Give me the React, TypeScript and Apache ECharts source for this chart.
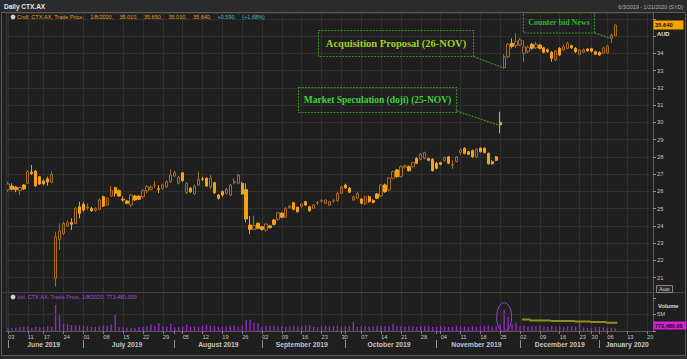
import React, { useEffect, useRef } from 'react';
import * as echarts from 'echarts';

// ---------- DATA ----------
const HOLIDAYS = ['2019-06-10', '2019-12-25', '2019-12-26', '2020-01-01'];
const MONTHS = ['January', 'February', 'March', 'April', 'May', 'June', 'July', 'August', 'September', 'October', 'November', 'December'];

function buildDates(): string[] {
  const out: string[] = [];
  const d = new Date(Date.UTC(2019, 5, 3));
  const end = Date.UTC(2020, 0, 21);
  while (d.getTime() <= end) {
    const dow = d.getUTCDay();
    const s = d.toISOString().slice(0, 10);
    if (dow !== 0 && dow !== 6 && !HOLIDAYS.includes(s)) out.push(s);
    d.setUTCDate(d.getUTCDate() + 1);
  }
  return out;
}
const dates = buildDates();

// [open, close, low, high]
const candles: number[][] = [
  [26.08, 26.43, 25.98, 26.56], [26.31, 26.12, 26.04, 26.47], [26.24, 26.10, 25.95, 26.31], [26.05, 26.22, 25.79, 26.27],
  [26.37, 26.14, 26.08, 26.42], [26.47, 27.14, 26.43, 27.24], [27.12, 27.02, 26.95, 27.53], [27.18, 26.33, 26.25, 27.24],
  [26.85, 26.43, 26.37, 26.89], [26.60, 26.43, 26.37, 26.70], [26.73, 26.54, 26.33, 26.85], [26.52, 26.98, 26.47, 27.15],
  [20.96, 23.37, 20.48, 23.66], [23.22, 23.70, 22.60, 24.15], [23.55, 24.15, 23.47, 24.24], [24.00, 24.19, 23.95, 24.34],
  [24.20, 24.10, 23.76, 24.44], [24.15, 25.02, 24.10, 25.10], [25.11, 24.73, 24.44, 25.40], [25.25, 24.92, 24.82, 25.40],
  [25.05, 25.10, 24.90, 25.30], [25.02, 24.88, 24.80, 25.10], [24.90, 25.00, 24.82, 25.08], [24.96, 25.50, 24.90, 25.60],
  [25.69, 25.15, 25.10, 25.75], [25.21, 25.60, 25.15, 25.65], [25.73, 26.08, 25.69, 26.31], [26.21, 25.89, 25.69, 26.27],
  [26.04, 25.73, 25.69, 26.12], [25.55, 25.50, 25.40, 25.70], [25.44, 25.31, 25.25, 25.50], [25.21, 25.79, 25.10, 25.85],
  [25.73, 25.50, 25.45, 25.80], [25.72, 25.55, 25.50, 25.78], [25.69, 26.04, 25.60, 26.12], [26.04, 26.27, 25.90, 26.37],
  [26.12, 26.24, 26.05, 26.35], [26.35, 26.38, 26.20, 26.60], [26.15, 26.12, 25.90, 26.35], [26.18, 26.37, 26.10, 26.45],
  [26.27, 26.56, 26.20, 26.65], [26.56, 26.95, 26.50, 27.28], [26.89, 27.08, 26.85, 27.20], [26.47, 26.82, 26.40, 26.90],
  [27.08, 26.62, 26.55, 27.12], [25.92, 26.47, 25.85, 26.55], [26.18, 25.98, 25.90, 26.25], [25.85, 26.31, 25.78, 26.40],
  [26.37, 26.70, 26.31, 27.14], [26.72, 26.70, 26.60, 26.85], [26.76, 26.31, 26.25, 26.82], [26.26, 26.76, 26.12, 26.95],
  [26.50, 25.92, 25.85, 26.55], [25.79, 25.60, 25.52, 25.85], [25.98, 25.79, 25.70, 26.05], [25.89, 26.12, 25.82, 26.20],
  [25.79, 26.37, 25.72, 26.42], [26.50, 26.56, 26.40, 26.75], [26.47, 26.95, 26.40, 27.00], [26.47, 25.85, 25.80, 26.56],
  [26.10, 24.40, 24.20, 26.47], [24.05, 23.80, 23.53, 24.57], [23.80, 24.02, 23.75, 24.60], [24.15, 23.86, 23.80, 24.20],
  [23.95, 23.80, 23.72, 24.00], [23.76, 24.10, 23.66, 24.15], [24.00, 23.90, 23.85, 24.05], [24.34, 24.09, 24.02, 24.40],
  [24.38, 24.76, 24.30, 24.82], [24.73, 24.50, 24.45, 24.80], [24.50, 25.02, 24.45, 25.08], [25.05, 25.13, 24.98, 25.20],
  [25.34, 24.96, 24.90, 25.40], [25.08, 24.82, 24.78, 25.12], [25.11, 25.27, 25.05, 25.32], [25.40, 25.21, 25.15, 25.45],
  [25.11, 24.88, 24.82, 25.15], [25.02, 25.21, 24.98, 25.26], [25.32, 25.35, 25.20, 25.45], [25.43, 25.46, 25.35, 25.55],
  [25.31, 25.50, 25.25, 25.55], [25.21, 25.40, 25.15, 25.45], [25.44, 25.46, 25.35, 25.55], [25.46, 25.89, 25.40, 25.95],
  [25.89, 26.27, 25.85, 26.32], [26.37, 26.20, 26.15, 26.45], [26.18, 25.95, 25.90, 26.25], [25.50, 25.69, 25.45, 25.75],
  [25.60, 25.89, 25.55, 25.95], [25.56, 25.31, 25.25, 25.62], [25.27, 25.69, 25.20, 25.75], [25.69, 25.40, 25.35, 25.75],
  [25.48, 25.36, 25.30, 25.55], [25.85, 25.60, 25.55, 25.90], [25.73, 26.37, 25.68, 26.42], [26.37, 25.98, 25.92, 26.45],
  [26.08, 26.76, 26.02, 26.82], [26.76, 27.14, 26.70, 27.20], [27.24, 26.85, 26.80, 27.30], [26.85, 27.43, 26.80, 27.50],
  [27.40, 27.48, 27.32, 27.55], [27.43, 27.20, 27.15, 27.50], [27.43, 27.66, 27.38, 27.72], [27.91, 27.63, 27.58, 27.98],
  [27.86, 28.16, 27.80, 28.22], [27.91, 28.24, 27.85, 28.30], [27.90, 27.80, 27.75, 27.95], [27.86, 27.20, 27.15, 27.92],
  [27.63, 27.34, 27.28, 27.70], [27.66, 27.57, 27.50, 27.72], [27.78, 27.97, 27.72, 28.02], [28.00, 27.63, 27.58, 28.05],
  [27.52, 27.55, 27.30, 27.80], [27.72, 28.00, 27.68, 28.05], [28.25, 28.40, 28.11, 28.50], [28.50, 28.20, 28.15, 28.55],
  [28.30, 28.15, 28.10, 28.35], [28.36, 28.00, 27.95, 28.42], [28.00, 28.44, 27.95, 28.50], [28.50, 28.30, 28.25, 28.55],
  [28.50, 28.24, 28.20, 28.55], [28.20, 27.60, 27.55, 28.25], [27.72, 27.60, 27.55, 27.80], [28.00, 27.80, 27.75, 28.05],
  [30.00, 29.85, 29.36, 30.62], [33.17, 33.80, 33.10, 33.94], [33.80, 34.52, 33.71, 34.58], [34.58, 34.40, 34.29, 34.87],
  [34.45, 34.70, 34.30, 35.16], [34.48, 34.77, 34.40, 34.90], [34.00, 34.38, 33.51, 34.77], [34.10, 34.35, 34.00, 34.45],
  [34.52, 34.29, 34.20, 34.60], [34.32, 34.52, 34.25, 34.67], [34.48, 34.29, 34.22, 34.55], [34.32, 34.06, 34.00, 34.38],
  [34.20, 34.10, 34.02, 34.28], [34.06, 33.71, 33.51, 34.12], [33.61, 34.13, 33.55, 34.20], [34.29, 33.90, 33.85, 34.35],
  [34.19, 34.38, 34.12, 34.52], [34.29, 34.58, 34.22, 34.67], [34.44, 34.32, 34.25, 34.50], [34.29, 34.09, 34.02, 34.35],
  [33.94, 34.19, 33.88, 34.25], [34.06, 34.20, 34.00, 34.28], [34.25, 34.15, 34.08, 34.30], [34.27, 34.12, 34.05, 34.32],
  [34.09, 33.95, 33.90, 34.15], [34.05, 33.90, 33.85, 34.12], [34.00, 34.32, 33.95, 34.38], [34.02, 34.42, 33.98, 34.50],
  [34.87, 35.05, 34.60, 35.14], [35.01, 35.64, 35.01, 35.65],
];

// volume, millions
const volumes: number[] = [
  1.0, 0.9, 1.0, 1.1, 1.2, 1.3, 1.0, 1.2, 1.1, 1.2, 1.4, 1.3,
  7.9, 4.8, 2.2, 2.1, 1.8, 1.7, 1.6,
  1.6, 1.5, 1.3, 1.2, 1.4, 1.7, 1.6, 2.0,
  4.9,
  1.1, 1.1, 1.0, 0.9, 1.0, 1.1, 1.2, 1.4,
  2.0, 1.4, 2.4, 1.4, 1.3, 2.2, 1.1, 1.3, 1.4, 2.0, 1.3, 1.4, 1.2, 1.5, 1.9, 1.6, 1.5, 1.3, 1.4, 1.4, 1.6, 1.6, 1.3, 1.7,
  3.3, 3.4, 2.5, 2.4,
  1.3, 1.5, 1.6, 1.6, 1.4, 1.5, 1.3, 1.4, 1.6, 1.4, 1.5, 1.7, 1.8, 1.3, 1.2, 1.5, 1.6, 1.4, 1.5, 1.6, 1.3,
  1.4, 1.5, 2.8, 1.2, 1.4, 1.5, 1.3, 1.4, 1.6, 1.5, 1.4, 1.5, 2.2, 1.6, 1.4, 1.3, 1.5, 1.4, 1.3, 1.5, 1.4, 1.6, 1.2,
  1.3, 1.5, 1.4, 1.2, 1.3, 1.6, 1.4, 1.3, 1.2, 1.5, 1.3, 1.4, 1.5, 1.7, 1.3, 1.4,
  2.0, 6.4, 4.3, 2.0, 2.6,
  1.4, 1.7, 1.3, 1.5, 1.4, 1.6, 1.3, 1.2, 1.5, 1.3, 1.4, 1.2, 1.3, 1.4, 1.3, 2.8, 1.1, 0.9, 1.0, 1.1, 1.2, 1.1, 1.0, 1.0, 0.77348,
];

// drawn volume trend line (millions), starting at trading day index 130
const volTrendStart = 130;
const volTrend: number[] = [3.5, 3.5, 3.2, 3.2, 3.2, 3.2, 3.2, 3.0, 3.0, 3.0, 3.0, 3.0, 3.0, 2.9, 2.9, 2.9, 2.9, 2.7, 2.7, 2.7, 2.7, 2.5, 2.5, 2.5];

const lastVolumeText = '773,480.000';
const lastVolumeTag = '773,480.00';

// ---------- STYLE ----------
const FONT = '"Liberation Sans", Arial, sans-serif';
const SERIF = '"Liberation Serif", "Times New Roman", serif';
const GRID_C = '#2f2f2f';
const AXIS_C = '#5a5a5a';
const LABEL_C = '#c4c4c4';
const LEG_SIZE = 5.5;

const dow = (s: string) => new Date(s + 'T00:00:00Z').getUTCDay();
const isWeekStart = dates.map((s, i) => i === 0 || dow(s) <= dow(dates[i - 1]));
const isMonthStart = dates.map((s, i) => i === 0 || s.slice(5, 7) !== dates[i - 1].slice(5, 7));
const monthMid: boolean[] = dates.map(() => false);
{
  let start = 0;
  for (let i = 1; i <= dates.length; i++) {
    if (i === dates.length || isMonthStart[i]) {
      monthMid[Math.ceil((start + i - 1) / 2)] = true;
      start = i;
    }
  }
}

function measure(text: string, font: string): number {
  const c = document.createElement('canvas').getContext('2d')!;
  c.font = font;
  return c.measureText(text).width;
}

function buildOption(): any {
  const trendData = dates.map((_, i) =>
    i >= volTrendStart && i < volTrendStart + volTrend.length ? volTrend[i - volTrendStart] : '-'
  );
  const vSplit = { show: true, interval: (i: number) => isWeekStart[i], alignWithLabel: true, lineStyle: { color: GRID_C, width: 1 } };
  return {
    animation: false,
    backgroundColor: '#1f1f1f',
    grid: [
      { left: 6, right: 34, top: 13, height: 279 },
      { left: 6, right: 34, top: 292, height: 39 },
    ],
    xAxis: [
      {
        type: 'category', data: dates, gridIndex: 0, boundaryGap: true,
        axisLine: { show: false }, axisTick: { show: false }, axisLabel: { show: false },
        splitLine: vSplit,
      },
      {
        type: 'category', data: dates, gridIndex: 1, boundaryGap: true,
        axisLine: { show: true, lineStyle: { color: AXIS_C } },
        axisTick: { show: true, alignWithLabel: true, length: 3, interval: (i: number) => isWeekStart[i] || isMonthStart[i], lineStyle: { color: '#808080' } },
        axisLabel: {
          interval: (i: number) => isWeekStart[i], formatter: (v: string) => v.slice(8, 10),
          align: 'left', fontSize: 5.7, color: LABEL_C, margin: 3, fontFamily: FONT,
        },
        splitLine: vSplit,
      },
      {
        type: 'category', data: dates, gridIndex: 1, boundaryGap: true, position: 'bottom', offset: 9,
        axisLine: { show: false },
        axisTick: { show: true, alignWithLabel: true, length: 8, interval: (i: number) => isMonthStart[i], lineStyle: { color: '#909090' } },
        axisLabel: {
          interval: (i: number) => monthMid[i],
          formatter: (v: string) => MONTHS[Number(v.slice(5, 7)) - 1] + ' ' + v.slice(0, 4),
          fontSize: 6.8, fontWeight: 'bold', color: LABEL_C, margin: 0.5, fontFamily: FONT,
        },
        splitLine: { show: false },
      },
    ],
    yAxis: [
      {
        type: 'value', gridIndex: 0, position: 'right', min: 20.17, max: 36.335, splitNumber: 16,
        axisLine: { show: true, lineStyle: { color: AXIS_C } },
        axisTick: { show: true, length: 3, lineStyle: { color: '#909090' } },
        axisLabel: {
          showMinLabel: false, showMaxLabel: false,
          formatter: (v: number) => (v > 34.5 ? '' : String(v)),
          fontSize: 5.8, color: LABEL_C, margin: 4, fontFamily: FONT,
        },
        splitLine: { show: true, lineStyle: { color: GRID_C } },
      },
      {
        type: 'value', gridIndex: 1, position: 'right', min: 0, max: 11.8, interval: 5,
        axisLine: { show: true, lineStyle: { color: AXIS_C } },
        axisTick: { show: true, length: 3, lineStyle: { color: '#909090' } },
        axisLabel: { formatter: (v: number) => (v === 5 ? '5M' : ''), fontSize: 5.8, color: LABEL_C, margin: 4, fontFamily: FONT },
        splitLine: { show: false },
      },
    ],
    series: [
      {
        type: 'candlestick', xAxisIndex: 0, yAxisIndex: 0, data: candles, barWidth: 2.8,
        itemStyle: { color: 'transparent', color0: '#f6a11a', borderColor: '#a86a1c', borderColor0: '#f6a11a', borderWidth: 1 },
      },
      {
        type: 'bar', xAxisIndex: 1, yAxisIndex: 1, data: volumes, barWidth: 1.4,
        itemStyle: { color: '#8e2cc2' },
        markLine: { silent: true, symbol: 'none', label: { show: false }, lineStyle: { color: GRID_C, type: 'solid', width: 1 }, data: [{ yAxis: 5 }] },
      },
      {
        type: 'line', xAxisIndex: 1, yAxisIndex: 1, data: trendData, step: 'middle', symbol: 'none',
        lineStyle: { color: '#8e8e1c', width: 2 },
      },
    ],
  };
}

function buildGraphic(chart: any): any[] {
  const px = (i: number, v: number) => chart.convertToPixel({ seriesIndex: 0 }, [i, v]) as number[];
  const pv = (i: number, v: number) => chart.convertToPixel({ seriesIndex: 1 }, [i, v]) as number[];
  const last = candles[candles.length - 1];
  const prev = candles[candles.length - 2];
  const chg = last[1] - prev[1];
  const pct = (chg / prev[1]) * 100;
  const legFont = `${LEG_SIZE}px ${FONT}`;

  const t = (text: string, x: number, y: number, fill: string, size: number, extra: any = {}) => ({
    type: 'text', z: 60,
    style: { text, x, y, fill, fontSize: size, fontFamily: FONT, align: 'left', verticalAlign: 'middle', ...extra },
  });

  // candle legend: spaced fields like the terminal's header line
  const fields: [string, string][] = [
    ['Cndl, CTX.AX, Trade Price,', '#e89a1e'],
    ['1/8/2020,', '#e89a1e'],
    [last[0].toFixed(3) + ',', '#e89a1e'],
    [last[3].toFixed(3) + ',', '#e89a1e'],
    [last[2].toFixed(3) + ',', '#e89a1e'],
    [last[1].toFixed(3) + ',', '#e89a1e'],
    ['+' + chg.toFixed(3) + ',', '#28c4c4'],
    ['(+' + pct.toFixed(2) + '%)', '#28c4c4'],
  ];
  const widths = fields.map((f) => measure(f[0], legFont));
  const gap = 6.2;
  const legendEls: any[] = [];
  let lx = 17;
  fields.forEach((f, k) => {
    legendEls.push(t(f[0], lx, 17, f[1], LEG_SIZE));
    lx += widths[k] + gap;
  });

  const lastPx = px(candles.length - 1, last[1]);
  const volY = Math.min(pv(candles.length - 1, volumes[volumes.length - 1])[1], 325.5);

  const acqEnd = px(125, candles[125][0]);
  const mktEnd = px(124, candles[124][1]);
  const ctrEnd = px(152, candles[152][0]);
  const ell = pv(125, 4.2);

  const dash = [2, 1.2];
  const boxStroke = '#3d8c25';

  return [
    { type: 'rect', z: 40, shape: { x: 0, y: 0, width: 687, height: 12 }, style: { fill: '#2b2b2b' } },
    { type: 'rect', z: 40, shape: { x: 0, y: 356, width: 687, height: 3 }, style: { fill: '#2b2b2b' } },
    t('Daily CTX.AX', 4, 6.5, '#e6e6e6', 6.5, { fontWeight: 'bold' }),
    t('6/3/2019 - 1/21/2020 (SYD)', 683, 6.5, '#b4b4b4', 5.3, { align: 'right' }),
    { type: 'rect', z: 41, shape: { x: 1.5, y: 12.5, width: 684, height: 343 }, style: { fill: 'none', stroke: '#5c5c5c', lineWidth: 1 } },
    { type: 'line', z: 41, shape: { x1: 1.5, y1: 292.5, x2: 685.5, y2: 292.5 }, style: { stroke: '#454545', lineWidth: 1 } },
    { type: 'line', z: 41, shape: { x1: 6.5, y1: 13, x2: 6.5, y2: 331 }, style: { stroke: '#3a3a3a', lineWidth: 1 } },

    { type: 'circle', z: 60, shape: { cx: 13, cy: 17, r: 2.4 }, style: { fill: '#d0d0d0' } },
    ...legendEls,

    { type: 'circle', z: 60, shape: { cx: 13, cy: 297, r: 2.4 }, style: { fill: '#d0d0d0' } },
    t(`Vol, CTX.AX, Trade Price, 1/8/2020, ${lastVolumeText}`, 17, 297, '#a64ad8', LEG_SIZE),

    { type: 'rect', z: 60, shape: { x: 653.5, y: lastPx[1] - 4.5, width: 30, height: 9 }, style: { fill: '#f5a300' } },
    t(last[1].toFixed(3), 655, lastPx[1], '#111', 5.8, { fontWeight: 'bold' }),
    t('AUD', 657, 34, '#e0e0e0', 5.8, { fontWeight: 'bold' }),
    { type: 'rect', z: 60, shape: { x: 656.5, y: 285.5, width: 16, height: 7 }, style: { fill: '#262626', stroke: '#a0a0a0', lineWidth: 0.8 } },
    t('Auto', 664.5, 289, '#dddddd', 5, { align: 'center' }),
    t('Volume', 658, 306, '#dddddd', 5.8, { fontWeight: 'bold' }),
    { type: 'rect', z: 60, shape: { x: 653.5, y: volY - 4, width: 33, height: 8 }, style: { fill: '#d423d4' } },
    t(lastVolumeTag, 655, volY, '#220022', 5.5, { fontWeight: 'bold' }),

    // annotations
    { type: 'rect', z: 55, shape: { x: 318.5, y: 30.5, width: 155, height: 26 }, style: { fill: 'none', stroke: boxStroke, lineWidth: 1.2, lineDash: dash } },
    { type: 'text', z: 60, style: { text: 'Acquisition Proposal (26-NOV)', x: 396, y: 43.5, fill: '#a2cf24', font: `bold 10.5px ${SERIF}`, align: 'center', verticalAlign: 'middle' } },
    { type: 'polyline', z: 55, shape: { points: [[473.5, 56.5], [acqEnd[0] - 1.5, acqEnd[1]]] }, style: { fill: 'none', stroke: boxStroke, lineWidth: 1.3, lineDash: dash } },

    { type: 'rect', z: 55, shape: { x: 298.5, y: 87.5, width: 158, height: 25 }, style: { fill: 'none', stroke: boxStroke, lineWidth: 1.2, lineDash: dash } },
    { type: 'text', z: 60, style: { text: 'Market Speculation (doji) (25-NOV)', x: 377.5, y: 100, fill: '#3ed43a', font: `bold 9.5px ${SERIF}`, align: 'center', verticalAlign: 'middle' } },
    { type: 'polyline', z: 55, shape: { points: [[456.5, 111], [mktEnd[0] - 2, mktEnd[1]]] }, style: { fill: 'none', stroke: boxStroke, lineWidth: 1.3, lineDash: dash } },

    { type: 'rect', z: 55, shape: { x: 523.5, y: 12.5, width: 71, height: 20.5 }, style: { fill: 'none', stroke: boxStroke, lineWidth: 1.2, lineDash: dash } },
    { type: 'text', z: 60, style: { text: 'Counter bid News', x: 559, y: 22, fill: '#35b235', font: `bold 8px ${SERIF}`, align: 'center', verticalAlign: 'middle' } },
    { type: 'polyline', z: 55, shape: { points: [[594.5, 33], [ctrEnd[0] - 0.5, ctrEnd[1]]] }, style: { fill: 'none', stroke: boxStroke, lineWidth: 1.3, lineDash: dash } },

    { type: 'ellipse', z: 55, shape: { cx: ell[0], cy: ell[1], rx: 7.5, ry: 14.5 }, style: { fill: 'none', stroke: '#9a3fc8', lineWidth: 1 } },
  ];
}

export default function App() {
  const ref = useRef<HTMLDivElement>(null);
  useEffect(() => {
    const chart = echarts.init(ref.current!, null, { renderer: 'svg' });
    chart.setOption(buildOption());
    chart.setOption({ graphic: buildGraphic(chart) });
    return () => chart.dispose();
  }, []);
  return <div ref={ref} style={{ position: 'fixed', left: 0, top: 0, width: 687, height: 359 }} />;
}
